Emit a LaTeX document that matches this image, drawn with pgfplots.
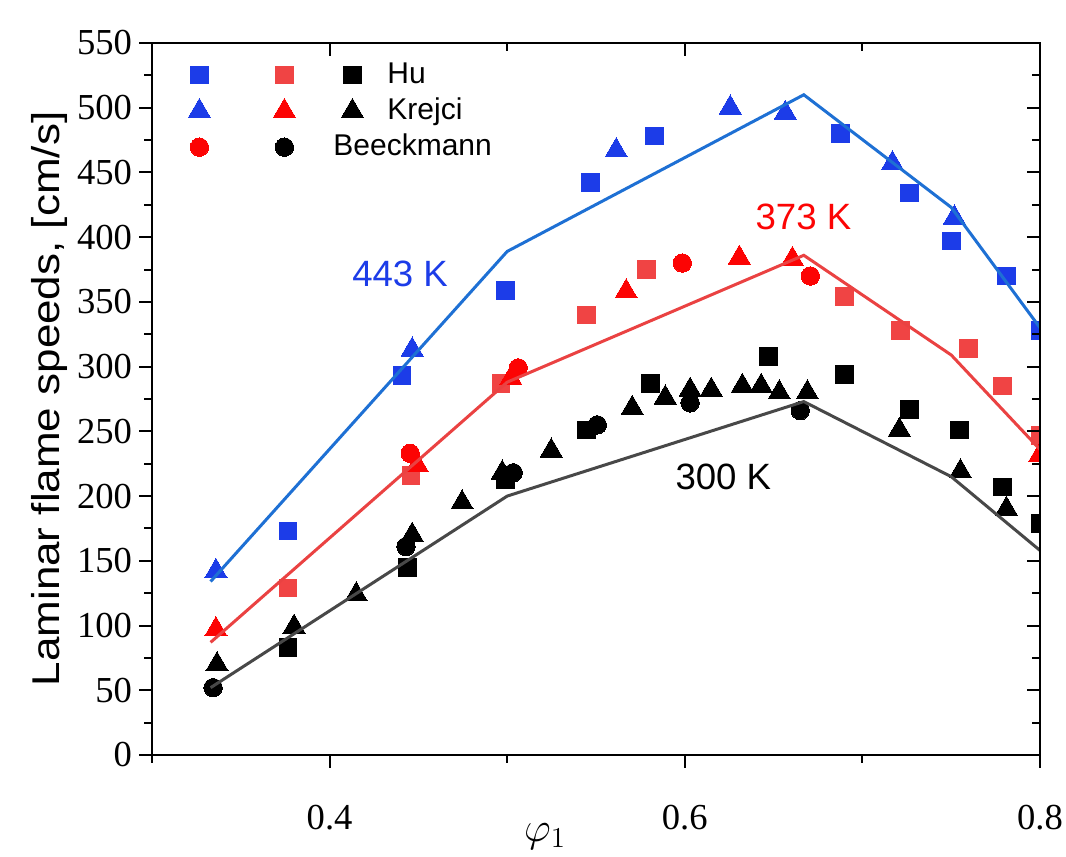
\documentclass[border=0pt]{standalone}
\usepackage{pgfplots}
\pgfplotsset{compat=1.18}
\usepackage{fontspec}
\setmainfont{Liberation Sans}
\newfontfamily\tickfont{Liberation Serif}
\definecolor{bluemk}{RGB}{28,60,232}
\definecolor{blueln}{RGB}{30,112,212}
\definecolor{redsq}{RGB}{240,68,68}
\definecolor{redmk}{RGB}{252,4,4}
\definecolor{redln}{RGB}{234,66,66}
\definecolor{grayln}{RGB}{72,72,72}
\pgfplotsset{
  sq/.style={only marks, mark=square*, mark size=4.4pt, mark options={line width=0pt}},
  tri/.style={only marks, mark=triangle*, mark size=6.4pt, mark options={line width=0pt}},
  circ/.style={only marks, mark=*, mark size=4.6pt, mark options={line width=0pt}},
  legend image code/.code={\path[draw=none,fill=none] (-8.5pt,-7pt) rectangle (8.5pt,7pt); \draw[#1] plot coordinates {(0pt,0pt)};},
}
\begin{document}
\begin{tikzpicture}
\begin{axis}[
  name=main,
  scale only axis,
  width=444pt, height=356pt,
  xmin=0.3, xmax=0.8, ymin=0, ymax=550,
  clip marker paths=true,
  xtick={0.4,0.6,0.8},
  minor xtick={0.3,0.5,0.7},
  ytick={0,50,...,550},
  minor ytick={25,75,...,525},
  tick pos=left,
  tick align=outside,
  major tick length=6.5pt, minor tick length=3.8pt,
  every tick/.style={black, line width=1pt},
  axis line style={line width=1.3pt},
  /pgf/number format/assume math mode=true,
  ticklabel style={font=\tickfont\fontsize{18.3}{20}\selectfont},
  xticklabel style={yshift=-15pt, /pgf/number format/.cd, fixed, precision=1, fixed zerofill},
  scaled ticks=false,
  every axis y label/.style={at={(axis description cs:-0.1160,0.5)}, rotate=90, anchor=center},
  ylabel={\scalebox{1}[0.88]{Laminar flame speeds, [cm/s]}},
  ylabel style={font=\fontsize{22}{24}\selectfont},
  every axis x label/.style={at={(axis description cs:0.4426,-0.1150)}, anchor=center},
  xlabel={$\varphi_1$},
  xlabel style={font=\fontsize{20}{22}\selectfont},
  legend columns=3,
  legend cell align=left,
  legend style={at={(rel axis cs:0.0338,0.975)}, anchor=north west, draw=none, fill=none,
    inner sep=0pt, row sep=4pt, column sep=0pt,
    font=\fontsize{15}{17}\selectfont,
    nodes={inner sep=0pt, text height=11pt, text depth=3pt}},
]
% legend
\addlegendimage{sq, color=bluemk}\addlegendentry{\hspace*{25.5pt}}
\addlegendimage{sq, color=redsq}\addlegendentry{\hspace*{17pt}}
\addlegendimage{sq, color=black}\addlegendentry{\hspace*{9pt}Hu}
\addlegendimage{tri, color=bluemk}\addlegendentry{\hspace*{25.5pt}}
\addlegendimage{tri, color=redmk}\addlegendentry{\hspace*{17pt}}
\addlegendimage{tri, color=black}\addlegendentry{\hspace*{9pt}Krejci}
\addlegendimage{circ, color=redmk}\addlegendentry{\hspace*{25.5pt}}
\addlegendimage{circ, color=black}\addlegendentry{\makebox[17pt][l]{\hspace*{16pt}Beeckmann}}

% 300 K
\addplot[sq, color=black, forget plot] coordinates {(0.3766,83)(0.4437,145)(0.4989,213)(0.5445,251)(0.5806,287)(0.647,308)(0.6899,294)(0.7265,267)(0.7546,251)(0.7789,207)(0.8,179)};
\addplot[tri, color=black, forget plot] coordinates {(0.3366,70)(0.38,99)(0.415,124)(0.4465,170)(0.4746,195)(0.4972,218)(0.5248,235)(0.5704,268)(0.589,276)(0.603,282)(0.6149,282)(0.6324,285)(0.643,285)(0.6532,280)(0.669,280)(0.7208,251)(0.7552,219)(0.7811,190)};
\addplot[circ, color=black, forget plot] coordinates {(0.3344,52)(0.443,161)(0.5034,218)(0.5507,255)(0.603,272)(0.665,266)};
% 373 K
\addplot[sq, color=redsq, forget plot] coordinates {(0.3766,129)(0.4459,216)(0.4966,287)(0.5445,340)(0.5783,375)(0.6899,354)(0.7214,328)(0.7597,314)(0.7789,285)(0.8,247)};
\addplot[tri, color=redmk, forget plot] coordinates {(0.336,97)(0.4493,224)(0.502,291)(0.567,358)(0.6307,384)(0.6606,383)(0.8,232)};
\addplot[circ, color=redmk, forget plot] coordinates {(0.4454,233)(0.5062,299)(0.5986,380)(0.6707,370)};
% 443 K
\addplot[sq, color=bluemk, forget plot] coordinates {(0.3766,173)(0.4408,293)(0.4989,359)(0.5468,442)(0.5828,478)(0.6876,480)(0.7265,434)(0.7501,397)(0.7811,370)(0.8,328)};
\addplot[tri, color=bluemk, forget plot] coordinates {(0.336,142)(0.4465,313)(0.5614,467)(0.6256,500)(0.6566,496)(0.7169,457)(0.7518,415)};

% model lines
\addplot[color=grayln, line width=1.5pt, forget plot] coordinates {(0.333,52)(0.5,200)(0.667,273)(0.75,215)(0.8,158)};
\addplot[color=redln, line width=1.5pt, forget plot] coordinates {(0.333,87)(0.5,288)(0.667,386)(0.75,309)(0.8,236)};
\addplot[color=blueln, line width=1.5pt, forget plot] coordinates {(0.333,134)(0.5,389)(0.667,510)(0.75,423)(0.8,330)};

\node[text=bluemk, font=\fontsize{18.3}{20}\selectfont] at (axis cs:0.4397,372) {443 K};
\node[text=redmk, font=\fontsize{18.3}{20}\selectfont] at (axis cs:0.6668,415.6) {373 K};
\node[text=black, font=\fontsize{18.3}{20}\selectfont] at (axis cs:0.6217,214.7) {300 K};
\end{axis}
\begin{axis}[
  scale only axis,
  width=444pt, height=356pt,
  xmin=0.3, xmax=0.8, ymin=0, ymax=550,
  xtick={0.4,0.6,0.8},
  minor xtick={0.3,0.5,0.7},
  ytick={0,50,...,550},
  minor ytick={25,75,...,525},
  tick pos=right,
  tick align=inside,
  major tick length=6.5pt, minor tick length=3.8pt,
  every tick/.style={black, line width=1pt},
  axis line style={line width=1.3pt},
  xticklabels={}, yticklabels={},
]
\end{axis}
\pgfresetboundingbox
\path (main.south west) ++(-76pt,-51pt) coordinate (bbsw);
\path (main.north east) ++(13pt,21.5pt) coordinate (bbne);
\useasboundingbox (bbsw) rectangle (bbne);
\end{tikzpicture}
\end{document}
